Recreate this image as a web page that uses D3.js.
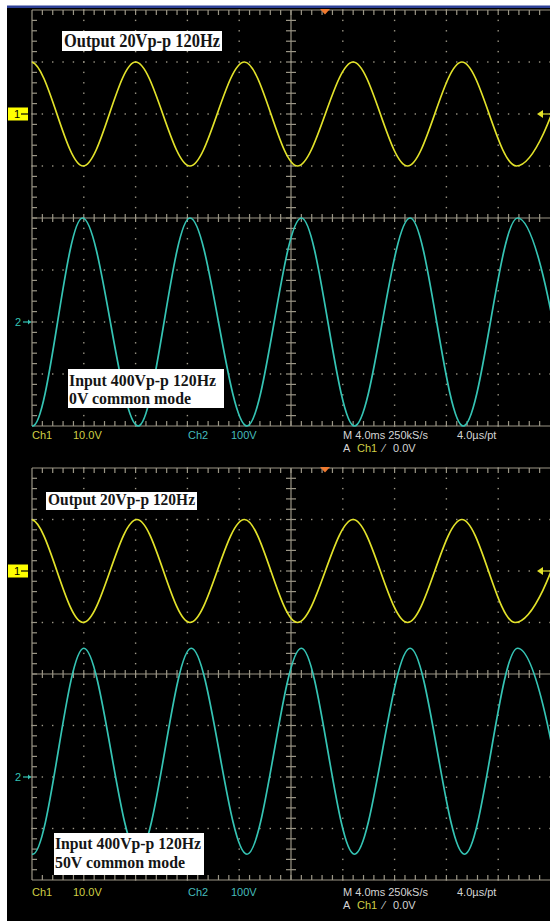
<!DOCTYPE html>
<html>
<head>
<meta charset="utf-8">
<script src="https://cdn.jsdelivr.net/npm/d3@7"></script>
<style>
  html, body { margin: 0; padding: 0; background: #fff; }
  svg { display: block; }
</style>
</head>
<body>
<svg id="chart" width="550" height="921"></svg>
<script>
// Extrema of each trace.
// Time is ms from the left graticule edge, level is volts from the channel marker.
const out1Times = [-4.2, -0.1, 3.95, 8.0, 12.2, 16.4, 20.5, 24.8, 29.0, 33.2, 37.4, 41.6];
const out1Volts = [-10, 10, -10, 10, -10, 10, -10, 10, -10, 10, -10, 10];
const in1Times = [-4.2, 0.05, 3.9, 8.2, 12.2, 16.6, 20.8, 24.9, 29.2, 33.3, 37.5, 41.7];
const in1Volts = [200, -200, 200, -200, 200, -200, 200, -200, 200, -200, 200, -200];

const out2Times = [-4.2, -0.1, 3.95, 8.1, 12.2, 16.4, 20.5, 24.8, 29.0, 33.2, 37.3, 41.6];
const out2Volts = [-10, 10, -10, 10, -10, 10, -10, 10, -10, 10, -10, 10];
const in2Times = [-4.2, 0.05, 4.0, 8.2, 12.3, 16.6, 20.8, 24.9, 29.2, 33.4, 37.5, 41.7];
const in2Volts = [250, -150, 250, -150, 250, -150, 250, -150, 250, -150, 250, -150];

// Annotation texts
const outputNotes = ["Output 20Vp-p 120Hz", "Output 20Vp-p 120Hz"];
const inputNotes = [
  ["Input 400Vp-p 120Hz", "0V common mode"],
  ["Input 400Vp-p 120Hz", "50V common mode"]
];

// Readouts under the graticule
const chanReadout = [["Ch1", "10.0V"], ["Ch2", "100V"]];
const timeReadout = ["M 4.0ms 250kS/s", "4.0\u00b5s/pt"];
const trigReadout = ["A", "Ch1", "\u2044", "0.0V"];

const timeSpan = [0, 40];   // 10 div x 4 ms
const voltsPerDiv = [10, 100];
const markerDiv = [2, -2];  // channel ground markers, in divisions from centre

const YELLOW = "#e2e22a";
const CYAN = "#35c4b4";
const GRID = "#9b9686";

const svg = d3.select("#chart");
const w = 550;

// white frame, black scope area, blue title strip
svg.append("rect").attr("width", w).attr("height", 921).attr("fill", "#fff");
svg.append("rect").attr("x", 7).attr("y", 6).attr("width", w - 7).attr("height", 915).attr("fill", "#000");
svg.append("rect").attr("x", 7).attr("y", 5.5).attr("width", w - 7).attr("height", 2.5).attr("fill", "#2c3f96");

const screens = [
  {
    top: 10, bottom: 426, readY: 439,
    traces: [[out1Times, out1Volts], [in1Times, in1Volts]],
    outBox: { x: 62, y: 31, w: 160, h: 20, base: 46.5, len: 156, fs: 18 },
    inBox: { x: 68, y: 369, w: 156, h: 39, base: [385.5, 404], len: [147, 122], fs: 17.5 }
  },
  {
    top: 468, bottom: 880, readY: 896,
    traces: [[out2Times, out2Volts], [in2Times, in2Volts]],
    outBox: { x: 46, y: 492, w: 151, h: 18, base: 505, len: 147, fs: 17 },
    inBox: { x: 54, y: 833, w: 150, h: 42, base: [849, 868], len: [146, 130], fs: 17.5 }
  }
];

screens.forEach(function (s, i) {
  const g = svg.append("g");
  const x = d3.scaleLinear().domain(timeSpan).range([32, 550]);
  const y = d3.scaleLinear().domain([-4, 4]).range([s.bottom, s.top]);
  const divW = (x(40) - x(0)) / 10;
  const divH = (s.bottom - s.top) / 8;

  // graticule dots on the major lines
  const grid = g.append("g").attr("fill", GRID);
  d3.range(1, 10).filter((k) => k != 5).forEach(function (k) {
    const gx = x(0) + k * divW;
    d3.range(0, 41).forEach(function (m) {
      grid.append("rect").attr("x", gx - 0.7).attr("y", s.top + m * divH / 5 - 0.7)
        .attr("width", 1.4).attr("height", 1.4);
    });
  });
  d3.range(1, 8).filter((k) => k != 4).forEach(function (k) {
    const gy = s.top + k * divH;
    d3.range(0, 51).forEach(function (m) {
      grid.append("rect").attr("x", x(0) + m * divW / 5 - 0.7).attr("y", gy - 0.7)
        .attr("width", 1.4).attr("height", 1.4);
    });
  });

  // border and centre cross with minor ticks
  const lines = g.append("g").attr("stroke", GRID).attr("stroke-width", 1.2);
  const cx = x(20), cy = y(0);
  lines.append("line").attr("x1", x(0)).attr("x2", x(40)).attr("y1", s.top).attr("y2", s.top);
  lines.append("line").attr("x1", x(0)).attr("x2", x(40)).attr("y1", s.bottom).attr("y2", s.bottom);
  lines.append("line").attr("x1", x(0)).attr("x2", x(0)).attr("y1", s.top).attr("y2", s.bottom);
  lines.append("line").attr("x1", x(0)).attr("x2", x(40)).attr("y1", cy).attr("y2", cy);
  lines.append("line").attr("x1", cx).attr("x2", cx).attr("y1", s.top).attr("y2", s.bottom);
  d3.range(1, 50).forEach(function (m) {
    const tx = x(0) + m * divW / 5;
    lines.append("line").attr("x1", tx).attr("x2", tx).attr("y1", s.top).attr("y2", s.top + 5);
    lines.append("line").attr("x1", tx).attr("x2", tx).attr("y1", s.bottom).attr("y2", s.bottom - 5);
    lines.append("line").attr("x1", tx).attr("x2", tx).attr("y1", cy - 4).attr("y2", cy + 4);
  });
  d3.range(1, 40).forEach(function (m) {
    const ty = s.top + m * divH / 5;
    lines.append("line").attr("x1", x(0)).attr("x2", x(0) + 5).attr("y1", ty).attr("y2", ty);
    lines.append("line").attr("x1", cx - 5).attr("x2", cx + 5).attr("y1", ty).attr("y2", ty);
  });

  // traces
  g.append("clipPath").attr("id", "clip" + i)
    .append("rect").attr("x", x(0)).attr("y", s.top - 2)
    .attr("width", x(40) - x(0)).attr("height", s.bottom - s.top + 4);
  const colours = [YELLOW, CYAN];
  s.traces.forEach(function (tr, c) {
    const pts = tr[0].map((t, k) => [t, tr[1][k]]);
    const line = d3.line()
      .x((d) => x(d[0]))
      .y((d) => y(markerDiv[c] + d[1] / voltsPerDiv[c]))
      .curve(d3.curveMonotoneX);
    g.append("path").attr("d", line(pts))
      .attr("clip-path", "url(#clip" + i + ")")
      .attr("fill", "none").attr("stroke", colours[c]).attr("stroke-width", 1.7);
  });

  // channel markers on the left
  const m1 = y(markerDiv[0]);
  g.append("rect").attr("x", 8).attr("y", m1 - 6.5).attr("width", 20).attr("height", 13).attr("fill", "#ffff00");
  g.append("text").text("1").attr("x", 14).attr("y", m1 + 4)
    .attr("font-family", "Liberation Sans, Arial, sans-serif").attr("font-size", "11px").attr("fill", "#000");
  g.append("path").attr("d", "M21," + m1 + "H31").attr("stroke", "#000").attr("stroke-width", 1.2);
  g.append("path").attr("d", "M31," + m1 + "l-3,-2.5v5z").attr("fill", "#000");

  const m2 = y(markerDiv[1]);
  g.append("text").text("2").attr("x", 15).attr("y", m2 + 4)
    .attr("font-family", "Liberation Sans, Arial, sans-serif").attr("font-size", "11px").attr("fill", CYAN);
  g.append("path").attr("d", "M23," + m2 + "H31").attr("stroke", CYAN).attr("stroke-width", 1.2);
  g.append("path").attr("d", "M31," + m2 + "l-3,-2.5v5z").attr("fill", CYAN);

  // trigger position (top) and trigger level (right)
  g.append("path").attr("d", "M320," + (s.top - 1) + "H330L325," + (s.top + 4.5) + "Z").attr("fill", "#f07a30");
  g.append("path").attr("d", "M537," + m1 + "l6,-4v8z").attr("fill", YELLOW);
  g.append("path").attr("d", "M543," + m1 + "H550").attr("stroke", YELLOW).attr("stroke-width", 1.2);

  // annotation boxes
  const serif = "Liberation Serif, Times New Roman, serif";
  const ob = s.outBox;
  g.append("rect").attr("x", ob.x).attr("y", ob.y).attr("width", ob.w).attr("height", ob.h).attr("fill", "#fff");
  g.append("text").text(outputNotes[i]).attr("x", ob.x + 2).attr("y", ob.base)
    .attr("font-family", serif).attr("font-weight", "bold").attr("font-size", ob.fs + "px")
    .attr("textLength", ob.len).attr("lengthAdjust", "spacingAndGlyphs").attr("fill", "#151515");
  const ib = s.inBox;
  g.append("rect").attr("x", ib.x).attr("y", ib.y).attr("width", ib.w).attr("height", ib.h).attr("fill", "#fff");
  inputNotes[i].forEach(function (txt, k) {
    g.append("text").text(txt).attr("x", ib.x + 1).attr("y", ib.base[k])
      .attr("font-family", serif).attr("font-weight", "bold").attr("font-size", ib.fs + "px")
      .attr("textLength", ib.len[k]).attr("lengthAdjust", "spacingAndGlyphs").attr("fill", "#151515");
  });

  // readouts
  const sans = "Liberation Sans, Arial, sans-serif";
  const rd = g.append("g").attr("font-family", sans).attr("font-size", "11px");
  rd.append("text").text(chanReadout[0][0]).attr("x", 32).attr("y", s.readY).attr("fill", "#cfcf45");
  rd.append("text").text(chanReadout[0][1]).attr("x", 73).attr("y", s.readY).attr("fill", "#cfcf45");
  rd.append("text").text(chanReadout[1][0]).attr("x", 188).attr("y", s.readY).attr("fill", "#45bcbc");
  rd.append("text").text(chanReadout[1][1]).attr("x", 231).attr("y", s.readY).attr("fill", "#45bcbc");
  rd.append("text").text(timeReadout[0]).attr("x", 343).attr("y", s.readY).attr("fill", "#d4d4d4");
  rd.append("text").text(timeReadout[1]).attr("x", 457).attr("y", s.readY).attr("fill", "#d4d4d4");
  const trigX = [343, 357, 383, 393];
  trigReadout.forEach(function (txt, k) {
    rd.append("text").text(txt).attr("x", trigX[k]).attr("y", s.readY + 12.5)
      .attr("fill", k == 1 ? "#cfcf45" : "#d4d4d4");
  });
});
</script>
</body>
</html>
